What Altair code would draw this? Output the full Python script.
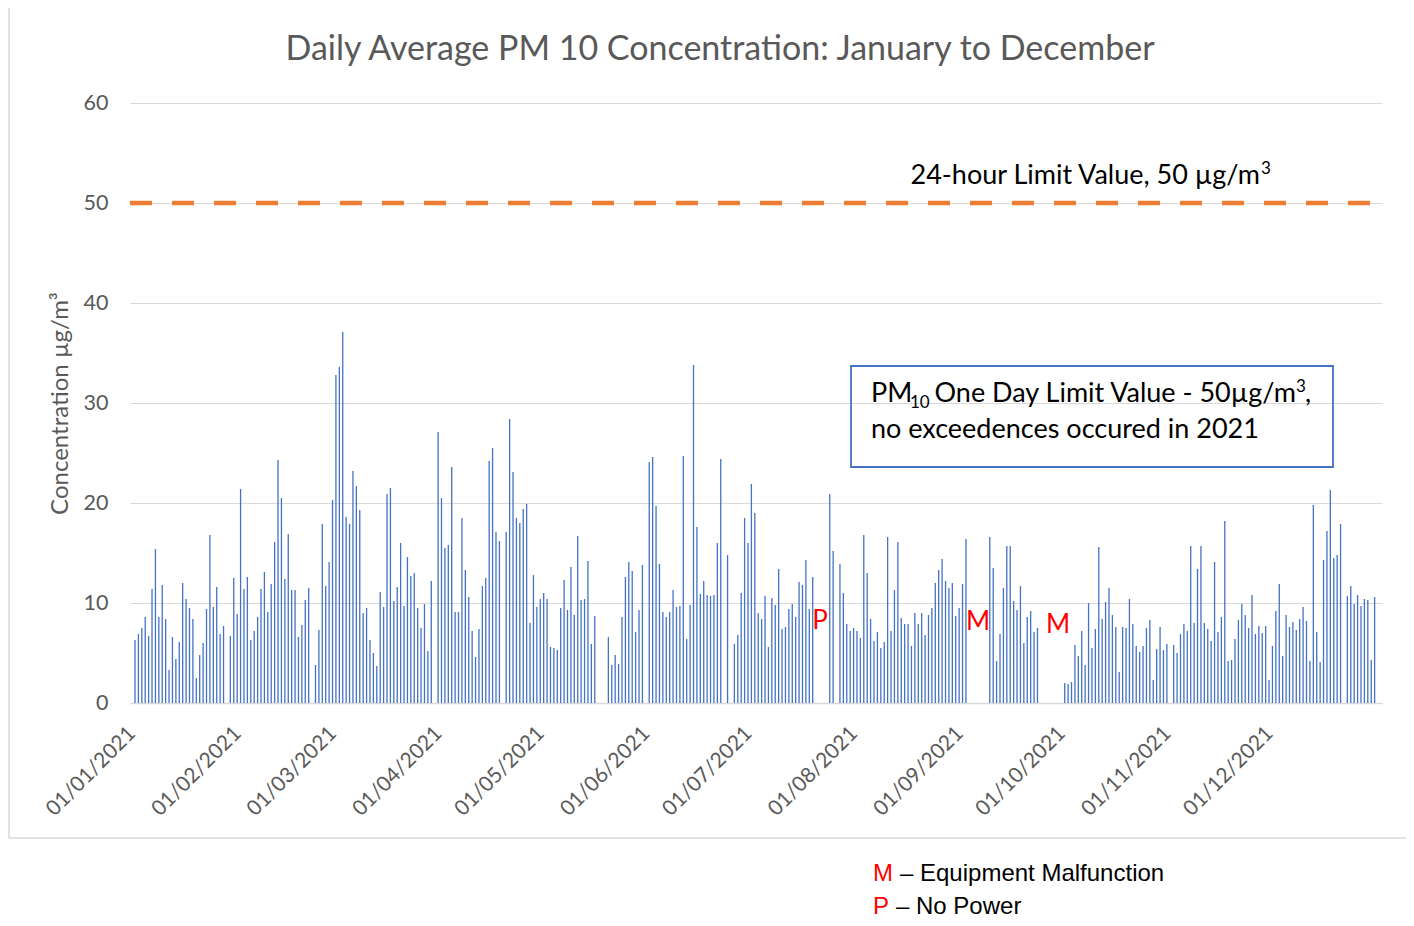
import altair as alt
import pandas as pd

# Daily PM10 values (µg/m3), None = no data
jan = [6.3, 6.9, 7.5, 8.6, 6.7, 11.4, 15.4, 8.6, 11.8, 8.4, 3.3, 6.6, 4.4, 6.1, 12.0, 10.4,
       9.5, 8.4, 2.5, 4.8, 6.0, 9.4, 16.8, 9.6, 11.6, 6.9, 7.7, None, 6.7, 12.5, 8.9]
feb = [21.4, 11.4, 12.6, 6.3, 7.2, 8.6, 11.4, 13.1, 9.1, 11.9, 16.1, 24.3, 20.5, 12.4,
       16.9, 11.3, 11.3, 6.6, 7.8, 10.3, 11.5, None, 3.8, 7.3, 17.9, 11.7, 14.1, 20.3]
mar = [32.8, 33.6, 37.1, 18.6, 17.9, 23.2, 21.7, 19.3, 9.0, 9.5, 6.3, 5.0, 3.7, 11.1, 9.6,
       20.9, 21.5, 10.2, 11.6, 16.0, 9.7, 14.6, 12.7, 13.0, 9.5, 7.5, 9.9, 5.2, 12.2, None, 27.1]
apr = [20.5, 15.5, 15.8, 23.6, 9.1, 9.1, 18.5, 13.3, 10.6, 7.2, 4.6, 7.4, 11.7, 12.5, 24.2,
       25.5, 17.1, 16.2, None, 17.1, 28.4, 23.1, 18.5, 18.0, 19.4, 19.9, 8.0, 12.8, 9.6, 10.4]
may = [11.0, 10.4, 5.6, 5.5, 5.3, 9.5, 12.3, 9.3, 13.6, 8.8, 16.7, 10.3, 10.4, 14.2, 5.9,
       8.7, None, None, None, 6.6, 3.8, 4.8, 3.9, 8.6, 12.6, 14.1, 13.2, 7.1, 9.3, 13.8, None]
jun = [24.1, 24.6, 19.7, 13.9, 9.1, 8.6, 9.1, 11.3, 9.6, 9.7, 24.7, 6.4, 9.8, 33.8, 17.6,
       10.9, 12.2, 10.8, 10.7, 10.8, 16.0, 24.4, None, 14.8, None, 5.9, 6.8, 11.0, 18.5, 16.0]
jul = [21.9, 19.0, 9.0, 8.4, 10.7, 5.6, 10.5, 9.8, 13.4, 7.4, 7.6, 9.4, 9.9, 8.6, 12.1,
       11.8, 14.3, 9.4, 12.6, None, None, None, None, 20.9, 15.2, None, 13.9, 11.0, 7.9, 7.2, 7.5]
aug = [7.2, 6.5, 16.8, 13.0, 8.4, 6.2, 7.1, 5.5, 6.1, 16.6, 7.2, 11.3, 16.1, 8.5, 7.9, 7.9,
       5.7, 9.0, 7.9, 9.0, 6.8, 8.8, 9.5, 12.0, 13.3, 14.4, 12.2, 11.5, 12.0, 8.7, 9.5]
sep = [11.9, 16.4, None, None, None, None, None, None, 16.6, 13.5, 4.2, 6.9, 11.5, 15.7,
       15.7, 10.2, 9.3, 11.7, 6.0, 8.6, 9.2, 7.1, 7.5, None, None, None, None, None, None, None]
oct_ = [2.0, 1.9, 2.1, 5.8, 4.7, 7.2, 3.8, 10.0, 5.5, 7.4, 15.6, 8.4, 10.1, 11.5, 8.8, 7.6,
        3.1, 7.6, 7.5, 10.4, 7.9, 5.7, 5.1, 5.7, 7.5, 8.3, 2.3, 5.4, 7.6, 5.3, 5.9]
nov = [None, 5.8, 5.0, 6.9, 7.9, 7.2, 15.7, 8.0, 13.4, 15.7, 8.0, 7.4, 6.2, 14.1, 7.1, 8.6,
       18.2, 4.2, 4.3, 6.4, 8.3, 9.9, 8.8, 7.5, 10.8, 6.9, 7.7, 7.0, 7.7, 2.3]
dec = [5.7, 9.2, 11.9, 4.7, 8.8, 7.6, 8.1, 7.3, 8.4, 9.6, 8.2, 4.2, 19.8, 7.1, 4.1, 14.3,
       17.2, 21.3, 14.5, 14.8, 17.9, None, 10.7, 11.7, 9.9, 10.8, 9.7, 10.4, 10.3, 4.3, 10.6]

pm10 = jan + feb + mar + apr + may + jun + jul + aug + sep + oct_ + nov + dec

month_start_days = [0, 31, 59, 90, 120, 151, 181, 212, 243, 273, 304, 334]
month_labels = ["01/01/2021", "01/02/2021", "01/03/2021", "01/04/2021", "01/05/2021",
                "01/06/2021", "01/07/2021", "01/08/2021", "01/09/2021", "01/10/2021",
                "01/11/2021", "01/12/2021"]
y_ticks = [0, 10, 20, 30, 40, 50, 60]
limit_value = 50

title_text = "Daily Average PM 10 Concentration: January to December"
limit_text = "24-hour Limit Value, 50 µg/m"
box_line1_a = "PM"
box_line1_sub = "10"
box_line1_b = "One Day Limit Value - 50µg/m"
box_line2 = "no exceedences occured in 2021"

df = pd.DataFrame({"day": list(range(len(pm10))), "pm10": pm10}).dropna()

label_expr = ("[" + ",".join(f"'{s}'" for s in month_labels) + "][indexof(["
              + ",".join(str(d) for d in month_start_days) + "], datum.value)]")

GRAY = "#595959"
FONT = "Lato"
ARIAL = "Liberation Sans"

bars = alt.Chart(df).mark_bar(size=1.3, color="#4472C4").encode(
    x=alt.X("day:Q",
            scale=alt.Scale(domain=[0, 364.7], nice=False, zero=False),
            axis=alt.Axis(values=month_start_days, labelExpr=label_expr, labelAngle=-45,
                          labelAlign="right", labelBaseline="middle", labelPadding=27,
                          labelOffset=-3,
                          labelFontSize=21, labelColor=GRAY, labelFont=FONT,
                          ticks=False, grid=False, domainColor="#D9D9D9", domainWidth=1.5,
                          title=None, labelOverlap=False, labelBound=False, labelFlush=False)),
    y=alt.Y("pm10:Q",
            scale=alt.Scale(domain=[0, 60], nice=False),
            axis=alt.Axis(values=y_ticks, grid=True, gridColor="#D9D9D9", gridWidth=1.2,
                          domain=False, ticks=False, labelPadding=22, labelFontSize=21.5,
                          labelColor=GRAY, labelFont=FONT,
                          title="Concentration µg/m³", titleFontSize=24, titleColor=GRAY,
                          titleFont=FONT, titleFontWeight="normal", titlePadding=11)),
)

one = pd.DataFrame({"k": [0]})

limit_rule = alt.Chart(one).mark_rule(color="#ED7D31", strokeWidth=4.5,
                                      strokeDash=[22, 20]).encode(
    x=alt.value(0), x2=alt.value(1252), y=alt.datum(limit_value)
)


def txt(text, x, y, size, color="black", align="left", font=FONT, baseline="middle"):
    return alt.Chart(one).mark_text(text=text, fontSize=size, color=color, align=align,
                                    baseline=baseline, font=font).encode(
        x=alt.value(x), y=alt.value(y))


title = txt(title_text, 590, -53, 34, GRAY, "center")
limit_label = txt(limit_text, 1130, 73, 27, align="right")
limit_sup = txt("3", 1131, 66, 17)

box = alt.Chart(one).mark_rect(fillOpacity=0, stroke="#4472C4", strokeWidth=1.8).encode(
    x=alt.value(721), x2=alt.value(1203), y=alt.value(263), y2=alt.value(364))
box_pm = txt(box_line1_a, 741, 291, 27)
box_sub = txt(box_line1_sub, 780, 300, 17)
box_t1 = txt(box_line1_b, 1166, 291, 27, align="right")
box_sup = txt("3", 1166, 284, 17)
box_comma = txt(",", 1175, 291, 27)
box_t2 = txt(box_line2, 741, 327, 27)

p_mark = txt("P", 690, 518, 26, "#FF0000", "center")
m_mark1 = txt("M", 848, 519, 26, "#FF0000", "center")
m_mark2 = txt("M", 928, 522, 26, "#FF0000", "center")

border = alt.Chart(one).mark_rect(fillOpacity=0, stroke="#D9D9D9", strokeWidth=1.5).encode(
    x=alt.value(-121), x2=alt.value(1290), y=alt.value(-96), y2=alt.value(735))

leg_m = txt("M", 743, 778, 24, "#FF0000", font=ARIAL, baseline="alphabetic")
leg_m_t = txt("– Equipment Malfunction", 770, 778, 24, font=ARIAL, baseline="alphabetic")
leg_p = txt("P", 743, 811, 24, "#FF0000", font=ARIAL, baseline="alphabetic")
leg_p_t = txt("– No Power", 766, 811, 24, font=ARIAL, baseline="alphabetic")

chart = alt.layer(
    border, bars, limit_rule, title, limit_label, limit_sup, box, box_pm, box_sub,
    box_t1, box_sup, box_comma, box_t2, p_mark, m_mark1, m_mark2,
    leg_m, leg_m_t, leg_p, leg_p_t
).properties(
    width=1252, height=600,
    autosize=alt.AutoSizeParams(type="none"),
    padding={"left": 122, "top": 95, "right": 24, "bottom": 215},
    background="white",
).configure_view(stroke=None)

chart.save("out.html", embed_options={"renderer": "svg", "actions": False})
